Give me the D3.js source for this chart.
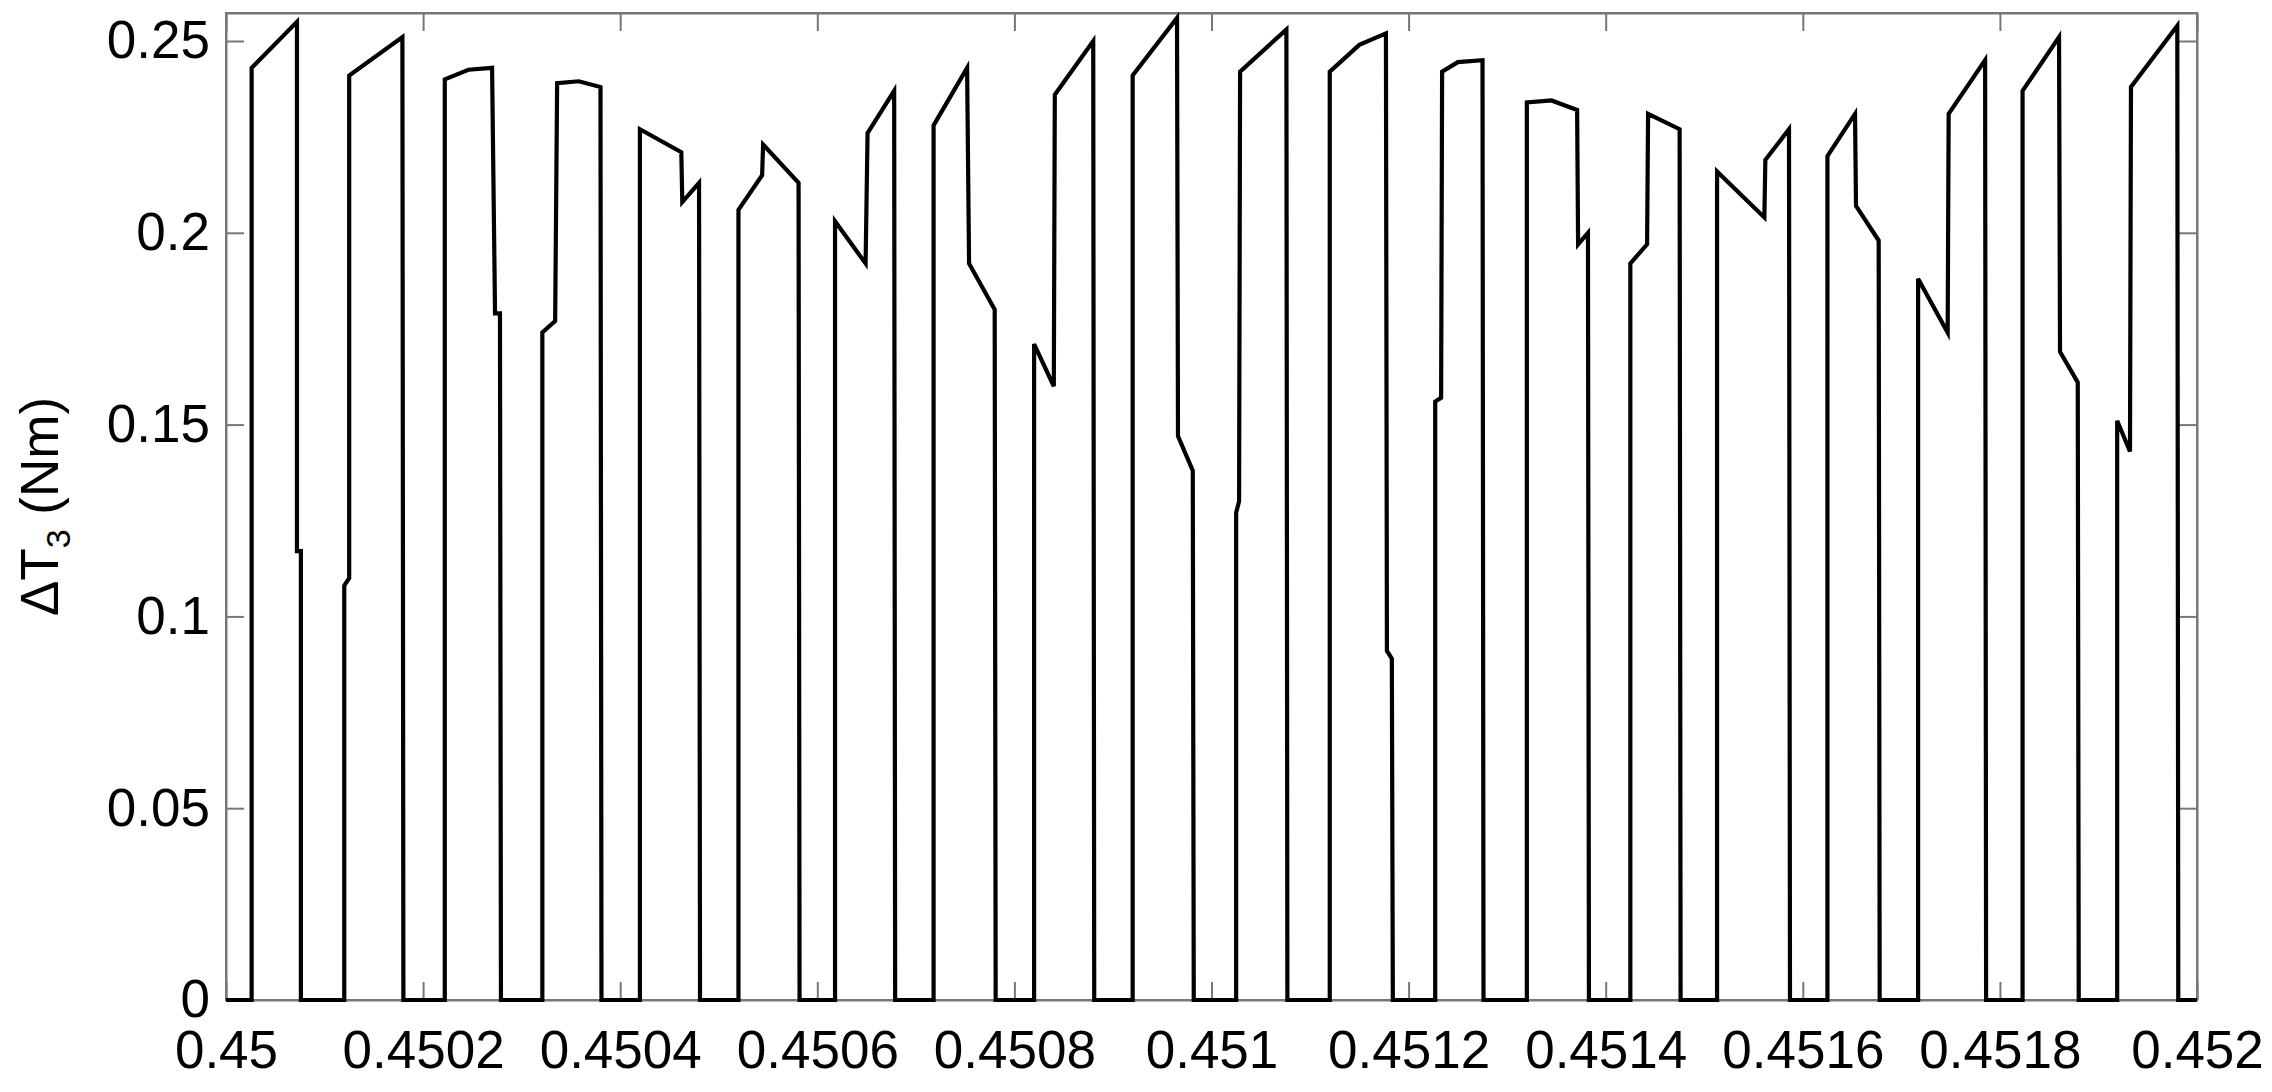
<!DOCTYPE html>
<html><head><meta charset="utf-8">
<script src="https://cdn.jsdelivr.net/npm/d3@7"></script>
<style>body{margin:0;background:#fff}svg{display:block}text{font-family:"Liberation Sans",Arial,sans-serif}</style>
</head><body><svg id="c" width="2272" height="1092"></svg>
<script>
// time offsets in units of 1e-4 s after 0.45 s
const timeOffsets = [0,0.26,0.26,0.72,0.72,0.76,0.76,
 1.20,1.20,1.25,1.25,1.79,1.80,
 2.22,2.22,2.46,2.70,2.73,2.78,2.79,
 3.21,3.21,3.34,3.36,3.58,3.80,3.81,
 4.20,4.20,4.62,4.63,4.80,4.81,
 5.20,5.20,5.44,5.45,5.81,5.82,
 6.18,6.18,6.49,6.51,6.78,6.79,
 7.18,7.18,7.52,7.54,7.80,7.81,
 8.20,8.20,8.40,8.41,8.80,8.81,
 9.20,9.20,9.65,9.66,9.81,9.82,
 10.25,10.25,10.28,10.29,10.76,10.77,
 11.20,11.20,11.50,11.77,11.78,11.83,11.84,
 12.27,12.27,12.33,12.34,12.50,12.75,12.76,
 13.20,13.20,13.45,13.71,13.72,13.82,13.83,
 14.25,14.25,14.42,14.43,14.75,14.76,
 15.13,15.13,15.61,15.62,15.86,15.87,
 16.25,16.25,16.53,16.54,16.77,16.78,
 17.17,17.17,17.47,17.48,17.85,17.86,
 18.23,18.23,18.60,18.61,18.79,18.80,
 19.19,19.19,19.32,19.33,19.80,19.81,20];
const torque = [0,0,0.243,0.255,0.117,0.117,0,
 0,0.108,0.110,0.241,0.251,0,
 0,0.240,0.2425,0.243,0.179,0.179,0,
 0,0.174,0.177,0.239,0.2395,0.238,0,
 0,0.227,0.221,0.208,0.213,0,
 0,0.206,0.215,0.223,0.213,0,
 0,0.203,0.192,0.226,0.237,0,
 0,0.228,0.243,0.192,0.180,0,
 0,0.171,0.160,0.236,0.250,0,
 0,0.241,0.256,0.147,0.138,0,
 0,0.127,0.130,0.242,0.253,0,
 0,0.242,0.249,0.252,0.091,0.089,0,
 0,0.156,0.157,0.242,0.2445,0.245,0,
 0,0.234,0.2345,0.232,0.197,0.200,0,
 0,0.192,0.197,0.231,0.227,0,
 0,0.216,0.204,0.219,0.227,0,
 0,0.220,0.231,0.207,0.198,0,
 0,0.188,0.174,0.231,0.245,0,
 0,0.237,0.251,0.169,0.161,0,
 0,0.151,0.143,0.238,0.254,0,0];
const xTickLabels = ["0.45","0.4502","0.4504","0.4506","0.4508","0.451","0.4512","0.4514","0.4516","0.4518","0.452"];
const yTickLabels = ["0","0.05","0.1","0.15","0.2","0.25"];

const L=226,R=2197,T=13,B=1000;
const svg=d3.select("#c");
const x=d3.scaleLinear().domain([0.45,0.452]).range([L,R]);
const y=d3.scaleLinear().domain([0,0.2573]).range([B,T]);
const xt=xTickLabels.map(Number), yt=yTickLabels.map(Number);
const g=svg.append("g");
const fs=53, axc="#777";
const bottom=d3.axisBottom(x).tickValues(xt).tickFormat((d,i)=>xTickLabels[i]).tickSizeInner(-18).tickSizeOuter(0).tickPadding(30);
const left=d3.axisLeft(y).tickValues(yt).tickFormat((d,i)=>yTickLabels[i]).tickSizeInner(-18).tickSizeOuter(0).tickPadding(16);
const gb=g.append("g").attr("transform",`translate(0,${B})`).call(bottom);
const gl=g.append("g").attr("transform",`translate(${L},0)`).call(left);
g.append("g").attr("transform",`translate(0,${T})`).call(d3.axisTop(x).tickValues(xt).tickFormat("").tickSizeInner(-18).tickSizeOuter(0));
g.append("g").attr("transform",`translate(${R},0)`).call(d3.axisRight(y).tickValues(yt).tickFormat("").tickSizeInner(-18).tickSizeOuter(0));
g.selectAll(".domain").attr("stroke",axc).attr("stroke-width",2);
g.selectAll(".tick line").attr("stroke",axc).attr("stroke-width",2);
g.selectAll(".tick text").attr("font-size",fs).attr("fill","#000");
gb.selectAll(".tick text").attr("dy","0.72em");
g.append("rect").attr("x",L).attr("y",T).attr("width",R-L).attr("height",B-T).attr("fill","none").attr("stroke",axc).attr("stroke-width",2);

const pts=timeOffsets.map((t,i)=>[0.45+t*1e-4,torque[i]]);
svg.append("path").datum(pts).attr("fill","none").attr("stroke","#000").attr("stroke-width",4.2).attr("stroke-linejoin","miter")
 .attr("d",d3.line().x(d=>x(d[0])).y(d=>y(d[1])));

const lab=svg.append("text").attr("transform",`translate(58,${(T+B)/2}) rotate(-90)`).attr("text-anchor","middle").attr("font-size",fs);
lab.append("tspan").text("ΔT");
lab.append("tspan").attr("font-size",34).attr("dy",12).text("3");
lab.append("tspan").attr("dy",-12).text(" (Nm)");
</script></body></html>
